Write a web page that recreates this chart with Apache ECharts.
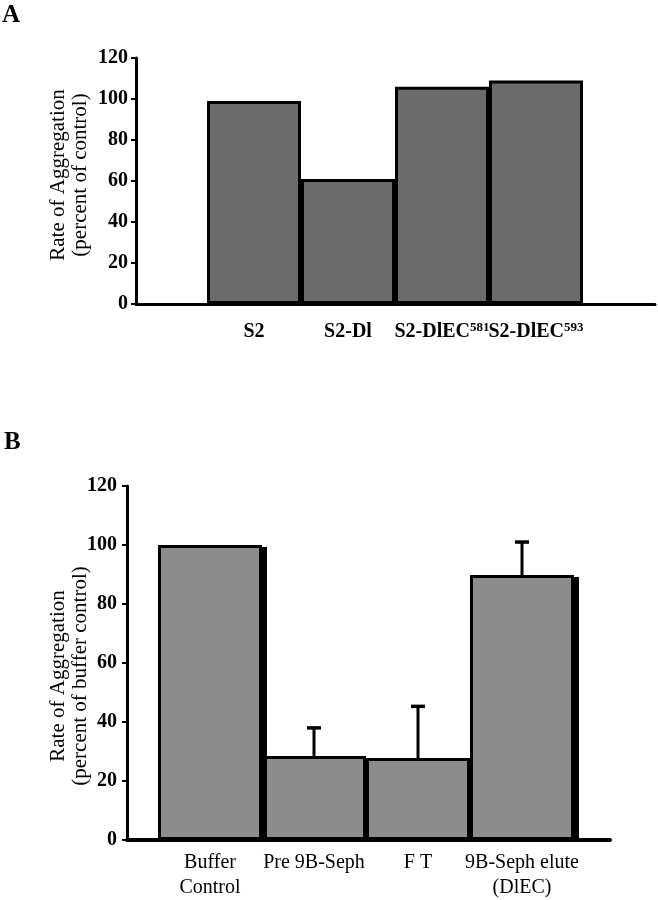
<!DOCTYPE html>
<html><head><meta charset="utf-8">
<script src="https://cdn.jsdelivr.net/npm/echarts@6/dist/echarts.min.js"></script>
<style>html,body{margin:0;padding:0;background:#fff}#c{width:658px;height:900px}</style>
</head><body><div id="c"></div>
<script>
// ---- data ----
const categoriesA = ['S2', 'S2-Dl', 'S2-DlEC581', 'S2-DlEC593'];
const valuesA = [99, 61, 106, 109];
const categoriesB = ['Buffer\nControl', 'Pre 9B-Seph', 'F T', '9B-Seph elute\n(DlEC)'];
const valuesB = [100, 28.5, 27.8, 89.8];
const errorsB = [0, 9.5, 17.5, 11.2];
const yTicks = [0, 20, 40, 60, 80, 100, 120];
const yTitleA = 'Rate of Aggregation\n(percent of control)';
const yTitleB = 'Rate of Aggregation\n(percent of buffer control)';

// ---- build ----
const FONT = "'Liberation Serif', 'Times New Roman', serif";
const yMin = yTicks[0], yMax = yTicks[yTicks.length - 1], yStep = yTicks[1] - yTicks[0];
const chart = echarts.init(document.getElementById('c'), null, {renderer: 'canvas'});

function lineAxis(gridIndex, w) {
  return {type: 'value', gridIndex, min: 0, max: 1, show: true,
    axisLine: {show: true, onZero: false, lineStyle: {color: '#000', width: w}},
    axisTick: {show: false}, axisLabel: {show: false}, splitLine: {show: false}};
}
function yVisible(gridIndex, title, gap, margin, pad) {
  return {type: 'value', gridIndex, min: yMin, max: yMax, interval: yStep,
    axisLine: {show: true, lineStyle: {color: '#000', width: 3}},
    axisTick: {show: true, inside: false, length: 5, lineStyle: {color: '#000', width: 2}},
    axisLabel: {margin, color: '#000', fontFamily: FONT, fontWeight: 'bold', fontSize: 20},
    splitLine: {show: false},
    name: title, nameLocation: 'middle', nameRotate: 90, nameGap: gap, nameMoveOverlap: false,
    nameTextStyle: {fontFamily: FONT, fontSize: 21, lineHeight: 22, color: '#000', padding: pad}};
}
function yHidden(gridIndex) {
  return {type: 'value', gridIndex, min: yMin, max: yMax, interval: yStep, show: false,
    splitLine: {show: false}};
}

const shadowBars = [0, 3];
const option = {
  animation: false,
  backgroundColor: '#fff',
  graphic: [
    {type: 'text', left: 2, top: 3, style: {text: 'A', font: 'bold 25px ' + FONT, fill: '#000'}},
    {type: 'text', left: 4, top: 430, style: {text: 'B', font: 'bold 25px ' + FONT, fill: '#000'}}
  ],
  grid: [
    {left: 136, top: 58, width: 519, height: 246},
    {left: 207, top: 58, width: 376, height: 246},
    {left: 127, top: 486, width: 483, height: 354},
    {left: 158, top: 486, width: 416, height: 354}
  ],
  xAxis: [
    lineAxis(0, 3),
    {type: 'category', gridIndex: 1, data: categoriesA,
      axisLine: {show: false}, axisTick: {show: false}, splitLine: {show: false},
      axisLabel: {margin: 17, interval: 0, color: '#000',
        formatter: function (v) {
          const m = v.match(/^(.*EC)(\d+)$/);
          return m ? '{b|' + m[1] + '}{s|' + m[2] + '}' : '{b|' + v + '}';
        },
        rich: {
          b: {fontFamily: FONT, fontWeight: 'bold', fontSize: 20, lineHeight: 22, color: '#000'},
          s: {fontFamily: FONT, fontWeight: 'bold', fontSize: 13, lineHeight: 13, verticalAlign: 'top', color: '#000'}
        }}},
    lineAxis(2, 4),
    {type: 'category', gridIndex: 3, data: categoriesB,
      axisLine: {show: false}, axisTick: {show: false}, splitLine: {show: false},
      axisLabel: {margin: 10, interval: 0, color: '#000', fontFamily: FONT, fontSize: 20, lineHeight: 25}}
  ],
  yAxis: [
    yVisible(0, yTitleA, 45, 8, [0, 0, 0, 12]),
    yHidden(1),
    yVisible(2, yTitleB, 36, 10, [0, 26, 0, 0]),
    yHidden(3)
  ],
  series: [
    {type: 'bar', xAxisIndex: 1, yAxisIndex: 1, data: valuesA, barCategoryGap: '0%',
      itemStyle: {color: '#6b6b6b', borderColor: '#000', borderWidth: 3}},
    {type: 'bar', xAxisIndex: 3, yAxisIndex: 3, barCategoryGap: '0%', data: valuesB,
      itemStyle: {color: '#8c8c8c', borderColor: '#000', borderWidth: 3}},
    // dark right-hand shadow strip on some bars of panel B
    {type: 'custom', xAxisIndex: 3, yAxisIndex: 3, z: 4,
      data: valuesB.map((v, i) => [i, v]),
      renderItem: function (params, api) {
        if (!shadowBars.includes(params.dataIndex)) return null;
        const x = api.value(0), v = api.value(1);
        const top = api.coord([x, v]), bot = api.coord([x, 0]);
        const bw = api.size([1, 0])[0];
        return {type: 'rect', shape: {x: top[0] + bw / 2 - 1, y: top[1] + 2, width: 6, height: bot[1] - top[1] - 2},
          style: {fill: '#000'}};
      }},
    {type: 'custom', xAxisIndex: 3, yAxisIndex: 3, z: 5,
      data: valuesB.map((v, i) => [i, v, errorsB[i]]),
      renderItem: function (params, api) {
        const x = api.value(0), v = api.value(1), e = api.value(2);
        if (!e) return null;
        const p0 = api.coord([x, v]), p1 = api.coord([x, v + e]);
        return {type: 'group', children: [
          {type: 'line', shape: {x1: p0[0], y1: p0[1], x2: p1[0], y2: p1[1]}, style: {stroke: '#000', lineWidth: 3}},
          {type: 'line', shape: {x1: p1[0] - 7, y1: p1[1], x2: p1[0] + 7, y2: p1[1]}, style: {stroke: '#000', lineWidth: 3.5}}
        ]};
      }}
  ]
};
chart.setOption(option);
</script>
</body></html>
